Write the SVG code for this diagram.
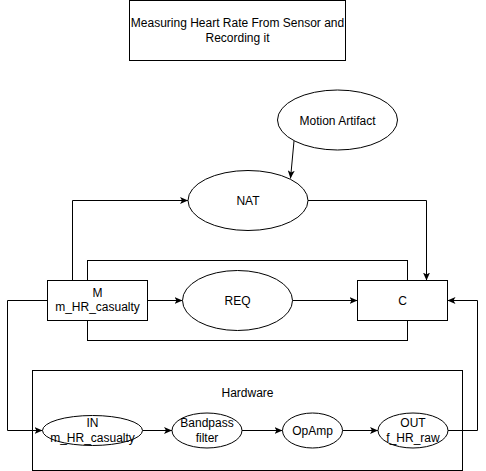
<svg xmlns="http://www.w3.org/2000/svg" width="486" height="471" viewBox="0 0 486 471">
  <style>
    .shape { fill: #ffffff; stroke: #000000; stroke-width: 1; }
    .frame { fill: none; stroke: #000000; stroke-width: 1; }
    .edge { fill: none; stroke: #000000; stroke-width: 1; }
    .arrow { marker-end: url(#arrowhead); }
    text { font-family: "Liberation Sans", Arial, sans-serif; font-size: 12px; fill: #000000; text-anchor: middle; }
  </style>
  <defs>
    <marker id="arrowhead" viewBox="0 0 8 7" refX="8" refY="3.5" markerWidth="8" markerHeight="7" markerUnits="userSpaceOnUse" orient="auto">
      <path d="M0,0 L8,3.5 L0,7 L2,3.5 z" fill="#000000"/>
    </marker>
  </defs>
  <rect width="486" height="471" fill="#ffffff"/>

  <g id="title">
    <rect class="shape" x="129.5" y="0.5" width="216" height="60"/>
    <text x="237.5" y="27">Measuring Heart Rate From Sensor and</text>
    <text x="237.5" y="42">Recording it</text>
  </g>

  <g id="hardware">
    <rect class="frame" x="32.5" y="370.5" width="430" height="100"/>
    <text x="247.5" y="396.5">Hardware</text>
  </g>

  <g id="loop">
    <rect class="frame" x="87.5" y="260.5" width="320" height="80"/>
  </g>

  <g id="connectors">
    <path class="edge arrow" d="M72.5,280.5 V200.5 H188"/>
    <path class="edge arrow" d="M294,141 L290.5,178.5"/>
    <path class="edge arrow" d="M308,200.5 H426.5 V280.5"/>
    <path class="edge arrow" d="M147.5,300.5 H182.5"/>
    <path class="edge arrow" d="M292.5,300.5 H357.5"/>
    <path class="edge arrow" d="M47.5,300.5 H7.5 V430.5 H42.5"/>
    <path class="edge arrow" d="M142.5,430.5 H172"/>
    <path class="edge arrow" d="M242,430.5 H282.5"/>
    <path class="edge arrow" d="M342.5,430.5 H378"/>
    <path class="edge arrow" d="M448,430.5 H477.5 V300.5 H447.5"/>
  </g>

  <g id="motion-artifact">
    <ellipse class="shape" cx="337.5" cy="120" rx="60" ry="30"/>
    <text x="337.5" y="124.5">Motion Artifact</text>
  </g>

  <g id="nat">
    <ellipse class="shape" cx="248" cy="200.5" rx="60" ry="30"/>
    <text x="248" y="205">NAT</text>
  </g>

  <g id="m">
    <rect class="shape" x="47.5" y="280.5" width="100" height="40"/>
    <text x="97.5" y="296.5">M</text>
    <text x="97.5" y="311">m_HR_casualty</text>
  </g>

  <g id="req">
    <ellipse class="shape" cx="237.5" cy="300.5" rx="55" ry="30"/>
    <text x="237.5" y="305">REQ</text>
  </g>

  <g id="c">
    <rect class="shape" x="357.5" y="280.5" width="90" height="40"/>
    <text x="402.5" y="305">C</text>
  </g>

  <g id="in">
    <ellipse class="shape" cx="92.5" cy="430.5" rx="50" ry="15"/>
    <text x="92.5" y="426.5">IN</text>
    <text x="92.5" y="441.5">m_HR_casualty</text>
  </g>

  <g id="bandpass">
    <ellipse class="shape" cx="207" cy="430.5" rx="35" ry="17.5"/>
    <text x="207" y="426.5">Bandpass</text>
    <text x="207" y="441.5">filter</text>
  </g>

  <g id="opamp">
    <ellipse class="shape" cx="312.5" cy="430.5" rx="30" ry="17.5"/>
    <text x="312.5" y="435">OpAmp</text>
  </g>

  <g id="out">
    <ellipse class="shape" cx="413" cy="430.5" rx="35" ry="17.5"/>
    <text x="413" y="426.5">OUT</text>
    <text x="413" y="441.5">f_HR_raw</text>
  </g>
</svg>
